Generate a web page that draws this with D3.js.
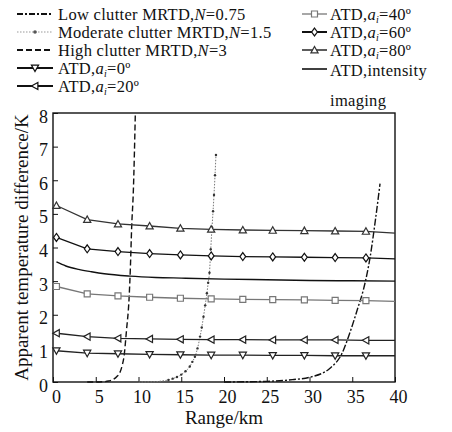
<!DOCTYPE html>
<html><head><meta charset="utf-8">
<script src="https://cdn.jsdelivr.net/npm/d3@7"></script>
<style>body{margin:0;background:#fff}svg text{font-family:'Liberation Serif','DejaVu Serif','Noto Serif',Times,serif;fill:#111}</style>
</head><body><svg id="c" width="452" height="432"></svg>
<script>
const FONT = "'Liberation Serif','DejaVu Serif','Noto Serif',Times,serif";
const xTicks = [0,5,10,15,20,25,30,35,40];
const yTicks = [0,1,2,3,4,5,6,7,8];
const markerX = [0.4,4.0,7.6,11.3,14.9,18.5,22.2,25.7,29.4,33.0,36.6];
const lineEndX = 40;
const atd0  = [0.93,0.86,0.84,0.82,0.81,0.80,0.80,0.79,0.79,0.78,0.78];
const atd0End = 0.78;
const atd20 = [1.45,1.35,1.30,1.28,1.27,1.26,1.26,1.25,1.25,1.25,1.24];
const atd20End = 1.24;
const atd40 = [2.84,2.62,2.56,2.52,2.49,2.47,2.46,2.45,2.44,2.43,2.42];
const atd40End = 2.40;
const atd60 = [4.30,3.96,3.88,3.82,3.78,3.75,3.73,3.72,3.71,3.70,3.69];
const atd60End = 3.66;
const atd80 = [5.25,4.83,4.70,4.64,4.57,4.54,4.52,4.51,4.50,4.49,4.48];
const atd80End = 4.43;
const intensX = [0.4,1.5,3,4.5,6,9,12,15,20,25,30,35,40];
const intensY = [3.57,3.45,3.35,3.28,3.22,3.15,3.11,3.09,3.06,3.04,3.02,3.01,3.00];
const highX = [4,5,6,6.5,7,7.5,7.8,8.1,8.3,8.6,8.9,9.05,9.2,9.4,9.63];
const highY = [0,0,0.01,0.03,0.07,0.17,0.27,0.5,0.75,1.55,2.5,3.4,4.6,5.7,8.0];
const modX = [10,12,13,13.5,14,14.5,15,15.5,16,16.3,16.6,16.9,17.2,17.4,17.6,17.8,18.0,18.15,18.3,18.45,18.6,18.72,18.83,18.95,19.06];
const modY = [0,0.01,0.04,0.06,0.1,0.15,0.22,0.32,0.46,0.6,0.75,1.0,1.35,1.62,1.94,2.28,2.64,2.95,3.25,3.95,4.6,5.08,5.56,6.15,6.75];
const lowX = [20,25,28,30,32.4,33.8,34.7,35.7,36.3,37.1,37.7,38.25];
const lowY = [0,0.02,0.07,0.14,0.41,0.85,1.45,2.24,2.74,3.73,4.8,5.9];

const svg = d3.select("#c");
const x = d3.scaleLinear().domain([0,40]).range([53,395]);
const y = d3.scaleLinear().domain([0,8]).range([382,113]);

svg.append("rect").attr("x",x(0)).attr("y",y(8)).attr("width",x(40)-x(0)).attr("height",y(0)-y(8))
  .attr("fill","none").attr("stroke","#111").attr("stroke-width",1.4);

const xa = svg.append("g").attr("transform",`translate(0,${y(0)})`)
  .call(d3.axisBottom(x).tickValues(xTicks).tickSize(-5).tickPadding(8).tickFormat(d3.format("d")));
const ya = svg.append("g").attr("transform",`translate(${x(0)},0)`)
  .call(d3.axisLeft(y).tickValues(yTicks).tickSize(-5).tickPadding(5).tickFormat(d3.format("d")));
[xa,ya].forEach(a=>{a.attr("font-family",FONT);a.select(".domain").remove();a.selectAll("line").attr("stroke","#111");
  a.selectAll("text").attr("font-size",18).attr("fill","#111").attr("font-family",FONT);});
xa.selectAll("text").attr("dx",3);
ya.selectAll("text").attr("dy","0.5em");

const line = d3.line().x(d=>x(d[0])).y(d=>y(d[1]));
const smooth = d3.line().x(d=>x(d[0])).y(d=>y(d[1])).curve(d3.curveMonotoneX);
const zip = (a,b)=>a.map((v,i)=>[v,b[i]]);

svg.append("path").datum(zip(highX,highY)).attr("d",smooth).attr("fill","none")
  .attr("stroke","#111").attr("stroke-width",1.4).attr("stroke-dasharray","6,3");
svg.append("path").datum(zip(lowX,lowY)).attr("d",smooth).attr("fill","none")
  .attr("stroke","#111").attr("stroke-width",1.4).attr("stroke-dasharray","7,2,2,2");
const modData = zip(modX,modY);
svg.append("path").datum(modData).attr("d",smooth).attr("fill","none")
  .attr("stroke","#777").attr("stroke-width",1).attr("stroke-dasharray","1.5,1.5");
svg.append("g").selectAll("circle").data(modData.filter(d=>d[1]>0.05)).join("circle")
  .attr("cx",d=>x(d[0])).attr("cy",d=>y(d[1])).attr("r",1.2).attr("fill","#333");

function marker(g, type, cx, cy, color){
  const s=3.6;
  let p;
  if(type==="down") p=`M${cx-s},${cy-s*0.8}L${cx+s},${cy-s*0.8}L${cx},${cy+s}Z`;
  else if(type==="left") p=`M${cx-s},${cy}L${cx+s*0.8},${cy-s}L${cx+s*0.8},${cy+s}Z`;
  else if(type==="up") p=`M${cx-s},${cy+s*0.8}L${cx+s},${cy+s*0.8}L${cx},${cy-s}Z`;
  else if(type==="square") p=`M${cx-3},${cy-3}h6v6h-6Z`;
  else if(type==="diamond") p=`M${cx},${cy-s*1.1}L${cx+s*0.8},${cy}L${cx},${cy+s*1.1}L${cx-s*0.8},${cy}Z`;
  g.append("path").attr("d",p).attr("fill","#fff").attr("stroke",color).attr("stroke-width",1.2);
}

const series = [
  {vals:atd0,end:atd0End,type:"down",color:"#222"},
  {vals:atd20,end:atd20End,type:"left",color:"#222"},
  {vals:atd40,end:atd40End,type:"square",color:"#777"},
  {vals:atd60,end:atd60End,type:"diamond",color:"#111"},
  {vals:atd80,end:atd80End,type:"up",color:"#333"}
];
series.forEach(s=>{
  const pts = zip(markerX,s.vals).concat([[lineEndX,s.end]]);
  svg.append("path").datum(pts).attr("d",line).attr("fill","none").attr("stroke",s.color).attr("stroke-width",1.3);
  const g = svg.append("g");
  markerX.forEach((mx,i)=>marker(g,s.type,x(mx),y(s.vals[i]),s.color));
});
svg.append("path").datum(zip(intensX,intensY)).attr("d",smooth).attr("fill","none").attr("stroke","#111").attr("stroke-width",1.4);

svg.append("text").attr("x",x(20)).attr("y",424).attr("text-anchor","middle").attr("font-size",19).attr("font-family",FONT).text("Range/km");
svg.append("text").attr("transform",`translate(28,${(y(0)+y(8))/2}) rotate(-90)`).attr("text-anchor","middle")
  .attr("font-size",19).attr("font-family",FONT).text("Apparent temperature difference/K");

const lg = svg.append("g");
function legText(tx,ty,parts){
  const t = lg.append("text").attr("x",tx).attr("y",ty).attr("font-size",16.5).attr("letter-spacing",0.3).attr("font-family",FONT);
  parts.forEach(p=>{
    const ts=t.append("tspan").text(p.t);
    if(p.i) ts.attr("font-style","italic");
    if(p.sub) ts.attr("font-size",10).attr("dy",3);
    if(p.back) ts.attr("dy",-3);
  });
}
function legLine(x1,x2,ly,opts){
  lg.append("line").attr("x1",x1).attr("x2",x2).attr("y1",ly).attr("y2",ly)
    .attr("stroke",opts.color).attr("stroke-width",opts.w||2).attr("stroke-dasharray",opts.dash||null);
  if(opts.type) marker(lg,opts.type,(x1+x2)/2,ly,opts.color);
  if(opts.dot) lg.append("circle").attr("cx",(x1+x2)/2).attr("cy",ly).attr("r",1.8).attr("fill","#555");
}
const L = [14,32,50,68,86];
legLine(17,53,L[0],{color:"#111",dash:"6,2,2,2",w:2.2});
legText(58,L[0]+6,[{t:"Low clutter MRTD,"},{t:"N",i:1},{t:"=0.75"}]);
legLine(17,53,L[1],{color:"#999",dash:"1.5,1.5",w:1.2,dot:1});
legText(58,L[1]+6,[{t:"Moderate clutter MRTD,"},{t:"N",i:1},{t:"=1.5"}]);
legLine(17,53,L[2],{color:"#111",dash:"6,3",w:2.2});
legText(58,L[2]+6,[{t:"High clutter MRTD,"},{t:"N",i:1},{t:"=3"}]);
legLine(17,53,L[3],{color:"#111",type:"down",w:2});
legText(58,L[3]+6,[{t:"ATD,"},{t:"a",i:1},{t:"i",i:1,sub:1},{t:"=0º",back:1}]);
legLine(17,53,L[4],{color:"#111",type:"left",w:2});
legText(58,L[4]+6,[{t:"ATD,"},{t:"a",i:1},{t:"i",i:1,sub:1},{t:"=20º",back:1}]);

legLine(302,327,L[0],{color:"#777",type:"square",w:1.3});
legText(330,L[0]+6,[{t:"ATD,"},{t:"a",i:1},{t:"i",i:1,sub:1},{t:"=40º",back:1}]);
legLine(302,327,L[1],{color:"#111",type:"diamond",w:2});
legText(330,L[1]+6,[{t:"ATD,"},{t:"a",i:1},{t:"i",i:1,sub:1},{t:"=60º",back:1}]);
legLine(302,327,L[2],{color:"#333",type:"up",w:1.6});
legText(330,L[2]+6,[{t:"ATD,"},{t:"a",i:1},{t:"i",i:1,sub:1},{t:"=80º",back:1}]);
legLine(302,327,L[3]+1,{color:"#111",w:1.6});
legText(330,L[3]+8,[{t:"ATD,intensity"}]);
legText(330,L[4]+20,[{t:"imaging"}]);
</script></body></html>
